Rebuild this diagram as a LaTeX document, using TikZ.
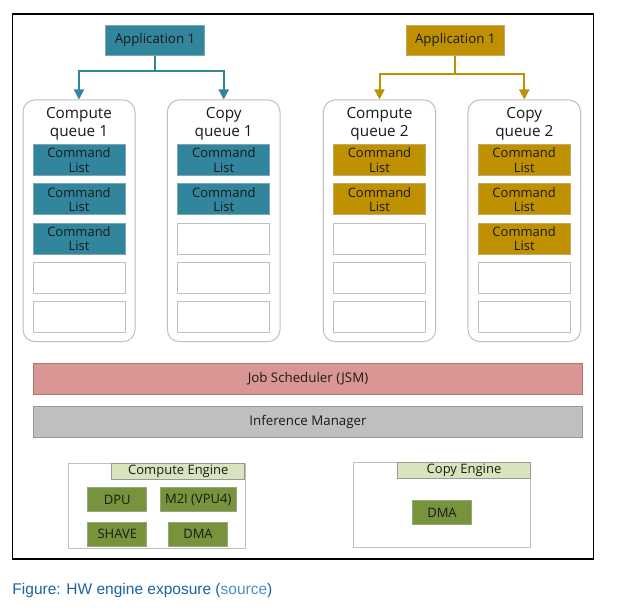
\documentclass[tikz,border=0pt]{standalone}
\usepackage{fontspec}
\setmainfont{Open Sans}
\newfontfamily\capfont{Liberation Sans}
\usetikzlibrary{arrows.meta}
\definecolor{tealc}{HTML}{31859C}
\definecolor{goldc}{HTML}{BF9000}
\definecolor{jsmc}{HTML}{D99694}
\definecolor{imc}{HTML}{BFBFBF}
\definecolor{greenc}{HTML}{77933C}
\definecolor{lgreenc}{HTML}{D7E4BD}
\definecolor{edgec}{HTML}{BFBFBF}
\definecolor{txtc}{HTML}{1A1A1A}
\definecolor{capc}{HTML}{1A64A3}
\definecolor{linkc}{HTML}{4A8FCC}
\tikzset{
  box/.style={draw=edgec, line width=1pt, inner sep=0pt, text=txtc, align=center},
  queuebox/.style={box, rounded corners=12pt, fill=white},
  tealcmd/.style={box, draw=tealc!80!black!60, fill=tealc, minimum width=92, minimum height=31, font=\fontsize{13}{14.5}\selectfont},
  goldcmd/.style={box, draw=goldc!80!black!60, fill=goldc, minimum width=92, minimum height=31, font=\fontsize{13}{14.5}\selectfont},
  emptycmd/.style={box, fill=white, minimum width=92, minimum height=31},
  apptext/.style={font=\fontsize{13.3}{15}\selectfont},
  qtitle/.style={text=txtc, align=center, inner sep=0pt, font=\fontsize{15.3}{18}\selectfont},
  bar/.style={box, minimum width=549.4, minimum height=30.7, font=\fontsize{13.3}{15}\selectfont},
  engbox/.style={box, fill=white},
  enghead/.style={box, draw=edgec!80!black, fill=lgreenc, font=\fontsize{13}{14}\selectfont},
  hwbox/.style={box, draw=greenc!70!black!60, fill=greenc, minimum height=24.5, font=\fontsize{13}{14}\selectfont},
  tealarrow/.style={draw=tealc, line width=2pt, -{Triangle[width=10pt,length=10pt]}},
  goldarrow/.style={draw=goldc, line width=2pt, -{Triangle[width=10pt,length=10pt]}},
}
\begin{document}
\begin{tikzpicture}[x=1pt, y=-1pt]
\useasboundingbox (0,0) rectangle (625,612);
\fill[white] (0,0) rectangle (625,612);
% outer frame
\draw[black, line width=1.2pt] (12.3,14) rectangle (593.3,559);

% applications
\node[box, apptext, draw=tealc!80!black!60, fill=tealc, minimum width=98.6, minimum height=30.7] (app1) at (155,40.4) {Application 1};
\node[box, apptext, draw=goldc!80!black!60, fill=goldc, minimum width=98.6, minimum height=30.7] (app2) at (455.3,40.4) {Application 1};

% queues
\node[queuebox, minimum width=112, minimum height=241.7] (cq1) at (79,220.8) {};
\node[queuebox, minimum width=112.7, minimum height=241.7] (cpq1) at (223.7,220.8) {};
\node[queuebox, minimum width=112.4, minimum height=241.7] (cq2) at (379.5,220.8) {};
\node[queuebox, minimum width=112.7, minimum height=241.7] (cpq2) at (524.3,220.8) {};

\node[qtitle] (t1) at (79,124) {Compute\\queue 1};
\node[qtitle] (t2) at (223.7,124) {Copy\\queue 1};
\node[qtitle] (t3) at (379.5,124) {Compute\\queue 2};
\node[qtitle] (t4) at (524.3,124) {Copy\\queue 2};

% compute queue 1
\node[tealcmd] (a1) at (79,160.3) {Command\\List};
\node[tealcmd] (a2) at (79,199.5) {Command\\List};
\node[tealcmd] (a3) at (79,238.8) {Command\\List};
\node[emptycmd] (a4) at (79,278.2) {};
\node[emptycmd] (a5) at (79,317.3) {};
% copy queue 1
\node[tealcmd] (b1) at (223.8,160.3) {Command\\List};
\node[tealcmd] (b2) at (223.8,199.5) {Command\\List};
\node[emptycmd] (b3) at (223.8,238.8) {};
\node[emptycmd] (b4) at (223.8,278.2) {};
\node[emptycmd] (b5) at (223.8,317.3) {};
% compute queue 2
\node[goldcmd] (c1) at (379.5,160.3) {Command\\List};
\node[goldcmd] (c2) at (379.5,199.5) {Command\\List};
\node[emptycmd] (c3) at (379.5,238.8) {};
\node[emptycmd] (c4) at (379.5,278.2) {};
\node[emptycmd] (c5) at (379.5,317.3) {};
% copy queue 2
\node[goldcmd] (d1) at (524.2,160.3) {Command\\List};
\node[goldcmd] (d2) at (524.2,199.5) {Command\\List};
\node[goldcmd] (d3) at (524.2,238.8) {Command\\List};
\node[emptycmd] (d4) at (524.2,278.2) {};
\node[emptycmd] (d5) at (524.2,317.3) {};

% connectors
\coordinate (j1) at (155,71.5);
\coordinate (j2) at (455.3,74.5);
\draw[tealc, line width=2pt] (app1.south) -- (j1);
\draw[tealarrow] (j1) -| (cq1.north);
\draw[tealarrow] (j1) -| (cpq1.north);
\draw[goldc, line width=2pt] (app2.south) -- (j2);
\draw[goldarrow] (j2) -| (cq2.north);
\draw[goldarrow] (j2) -| (cpq2.north);

% bars
\node[bar, draw=jsmc!80!black, fill=jsmc] (jsm) at (308,378.7) {Job Scheduler (JSM)};
\node[bar, draw=imc!80!black, fill=imc] (im) at (308,422) {Inference Manager};

% compute engine
\node[engbox, minimum width=176.7, minimum height=85] (ce) at (156.7,505.8) {};
\node[enghead, minimum width=133.3, minimum height=15.7] (ceh) at (178.3,471.2) {Compute Engine};
\node[hwbox, minimum width=59.3] (dpu) at (117.3,499.5) {DPU};
\node[hwbox, minimum width=75.7] (m2i) at (198.2,499.5) {M2I (VPU4)};
\node[hwbox, minimum width=59.3] (shave) at (117.3,534.3) {SHAVE};
\node[hwbox, minimum width=59.4] (dma1) at (198,534.3) {DMA};

% copy engine
\node[engbox, minimum width=177.4, minimum height=85.4] (cpe) at (442,505) {};
\node[enghead, minimum width=133.4, minimum height=15.7] (cpeh) at (464,470.2) {Copy Engine};
\node[hwbox, minimum width=59.4] (dma2) at (442,512.7) {DMA};

% caption
\node[anchor=west, inner sep=0pt, font=\capfont\fontsize{15.5}{18}\selectfont, text=capc] (cap) at (12.3,590.5) {Figure: HW engine exposure (\textcolor{linkc}{source})};
\end{tikzpicture}
\end{document}
